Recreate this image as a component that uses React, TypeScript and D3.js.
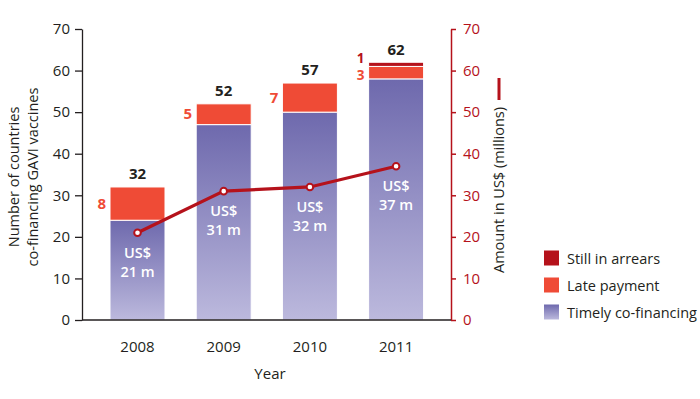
import { useEffect, useRef } from "react";
import * as d3 from "d3";

// data
const years = ["2008", "2009", "2010", "2011"];
const timely = [24, 47, 50, 58];
const late = [8, 5, 7, 3];
const arrears = [0, 0, 0, 1];
const amountUSD = [21, 31, 32, 37];
const yTicks = [0, 10, 20, 30, 40, 50, 60, 70];
const legendItems = ["Still in arrears", "Late payment", "Timely co-financing"];

const FONT = "'Open Sans', 'Noto Sans', sans-serif";
const DARK_RED = "#b5121b";
const ORANGE = "#ef4b36";

export default function App() {
  const gRef = useRef<SVGGElement>(null);

  const width = 700;
  const height = 399;

  useEffect(() => {
    const svg = d3.select(gRef.current);

    const x = d3.scaleBand().domain(years).range([110, 423.6]).paddingInner(0.362).paddingOuter(0);
    const y = d3.scaleLinear().domain([0, 70]).range([320, 29]);
    const yRight = d3.scaleLinear().domain([0, 70]).range([320, 29]);

    // gradient for timely bars
    const defs = svg.append("defs");
    const grad = defs.append("linearGradient").attr("id", "timelyGrad")
      .attr("x1", 0).attr("y1", 0).attr("x2", 0).attr("y2", 1);
    grad.append("stop").attr("offset", "0%").attr("stop-color", "#6e69ad");
    grad.append("stop").attr("offset", "100%").attr("stop-color", "#bcb9dd");

    // left axis
    const left = svg.append("g")
      .attr("transform", "translate(82,0)")
      .call(d3.axisLeft(y).tickValues(yTicks).tickSize(7).tickSizeOuter(0).tickPadding(5));
    left.select(".domain").attr("stroke", "#231f20").attr("stroke-width", 1.3);
    left.selectAll(".tick line").attr("stroke", "#231f20").attr("stroke-width", 1.3);
    left.selectAll(".tick text").attr("font-family", FONT).attr("font-size", 15).attr("fill", "#231f20");

    // right axis
    const right = svg.append("g")
      .attr("transform", "translate(451,0)")
      .call(d3.axisRight(yRight).tickValues(yTicks).tickSize(5).tickSizeOuter(0).tickPadding(7));
    right.select(".domain").attr("stroke", DARK_RED).attr("stroke-width", 1.5);
    right.selectAll(".tick line").attr("stroke", DARK_RED).attr("stroke-width", 1.5);
    right.selectAll(".tick text").attr("font-family", FONT).attr("font-size", 15).attr("fill", DARK_RED);

    // bars
    years.forEach((yr, i) => {
      const bx = x(yr)!;
      const bw = x.bandwidth();
      const segs = [
        { y0: 0, y1: timely[i], fill: "url(#timelyGrad)" },
        { y0: timely[i], y1: timely[i] + late[i], fill: ORANGE },
        { y0: timely[i] + late[i], y1: timely[i] + late[i] + arrears[i], fill: DARK_RED },
      ].filter(s => s.y1 > s.y0);
      svg.selectAll(null)
        .data(segs)
        .join("rect")
          .attr("x", bx)
          .attr("y", d => y(d.y1))
          .attr("width", bw)
          .attr("height", d => y(d.y0) - y(d.y1))
          .attr("fill", d => d.fill)
          .attr("stroke", "#fff")
          .attr("stroke-width", 1);

      const total = timely[i] + late[i] + arrears[i];
      svg.append("text")
        .attr("x", bx + bw / 2)
        .attr("y", y(total) - 13)
        .attr("dy", "0.35em")
        .attr("text-anchor", "middle")
        .attr("font-family", FONT).attr("font-weight", "bold").attr("font-size", 15)
        .attr("fill", "#231f20")
        .text(total);

      // late count label, left of bar
      const small = arrears[i] > 0;
      svg.append("text")
        .attr("x", bx - 4)
        .attr("y", small ? y(timely[i] + late[i] / 2) + 3 : y(timely[i] + late[i] / 2))
        .attr("dy", "0.35em")
        .attr("text-anchor", "end")
        .attr("font-family", FONT).attr("font-weight", "bold").attr("font-size", small ? 13.5 : 15)
        .attr("fill", ORANGE)
        .text(late[i]);

      if (arrears[i] > 0) {
        svg.append("text")
          .attr("x", bx - 4)
          .attr("y", y(timely[i] + late[i] + arrears[i] / 2) - 6)
          .attr("dy", "0.35em")
          .attr("text-anchor", "end")
          .attr("font-family", FONT).attr("font-weight", "bold").attr("font-size", 13.5)
          .attr("fill", DARK_RED)
          .text(arrears[i]);
      }
    });

    // x axis baseline
    svg.append("line")
      .attr("x1", 82).attr("x2", 451)
      .attr("y1", y(0)).attr("y2", y(0))
      .attr("stroke", "#231f20").attr("stroke-width", 1.5);

    svg.selectAll(null)
      .data(years)
      .join("text")
        .attr("x", d => x(d)! + x.bandwidth() / 2)
        .attr("y", 347)
        .attr("dy", "0.35em")
        .attr("text-anchor", "middle")
        .attr("font-family", FONT).attr("font-size", 15).attr("fill", "#231f20")
        .text(d => d);

    // amount line
    const line = d3.line<number>()
      .x((_, i) => x(years[i])! + x.bandwidth() / 2)
      .y(d => yRight(d));
    svg.append("path")
      .datum(amountUSD)
      .attr("d", line)
      .attr("fill", "none")
      .attr("stroke", DARK_RED)
      .attr("stroke-width", 3.2);

    svg.selectAll(null)
      .data(amountUSD)
      .join("circle")
        .attr("cx", (_, i) => x(years[i])! + x.bandwidth() / 2)
        .attr("cy", d => yRight(d))
        .attr("r", 3.3)
        .attr("fill", "#fff")
        .attr("stroke", DARK_RED)
        .attr("stroke-width", 2);

    // US$ labels under the points
    amountUSD.forEach((v, i) => {
      const cx = x(years[i])! + x.bandwidth() / 2;
      const t = svg.append("text")
        .attr("x", cx)
        .attr("text-anchor", "middle")
        .attr("font-family", FONT).attr("font-size", 14.5).attr("font-weight", 600)
        .attr("fill", "#fff");
      t.append("tspan").attr("x", cx).attr("y", yRight(v) + 20).attr("dy", "0.35em").text("US$");
      t.append("tspan").attr("x", cx).attr("y", yRight(v) + 39).attr("dy", "0.35em").text(`${v} m`);
    });

    return () => { svg.selectAll("*").remove(); };
  }, []);

  const legendColors = [DARK_RED, ORANGE, "url(#timelyGrad)"];

  return (
    <svg width={width} height={height} style={{ display: "block", position: "absolute", left: 0, top: 0 }}>
      <rect x={0} y={0} width={width} height={height} fill="#fff" />
      <g ref={gRef}></g>
      <text transform="translate(13,177) rotate(-90)" textAnchor="middle" dominantBaseline="central"
        fontFamily={FONT} fontSize={14.5} fill="#231f20">Number of countries</text>
      <text transform="translate(32,177) rotate(-90)" textAnchor="middle" dominantBaseline="central"
        fontFamily={FONT} fontSize={14.5} fill="#231f20">co-financing GAVI vaccines</text>
      <text transform="translate(498,190) rotate(-90)" textAnchor="middle" dominantBaseline="central"
        fontFamily={FONT} fontSize={14.5} fill="#231f20">Amount in US$ (millions)</text>
      <line x1={499} x2={499} y1={78} y2={100} stroke={DARK_RED} strokeWidth={3} />
      <text x={270} y={373} textAnchor="middle" dominantBaseline="central"
        fontFamily={FONT} fontSize={15} fill="#231f20">Year</text>
      {legendItems.map((d, i) => (
        <g key={d} transform={`translate(544,${258 + i * 27})`}>
          <rect x={0} y={-7.5} width={15} height={15} fill={legendColors[i]} />
          <text x={23} y={0} dominantBaseline="central" fontFamily={FONT} fontSize={14.5} fill="#231f20">{d}</text>
        </g>
      ))}
    </svg>
  );
}
